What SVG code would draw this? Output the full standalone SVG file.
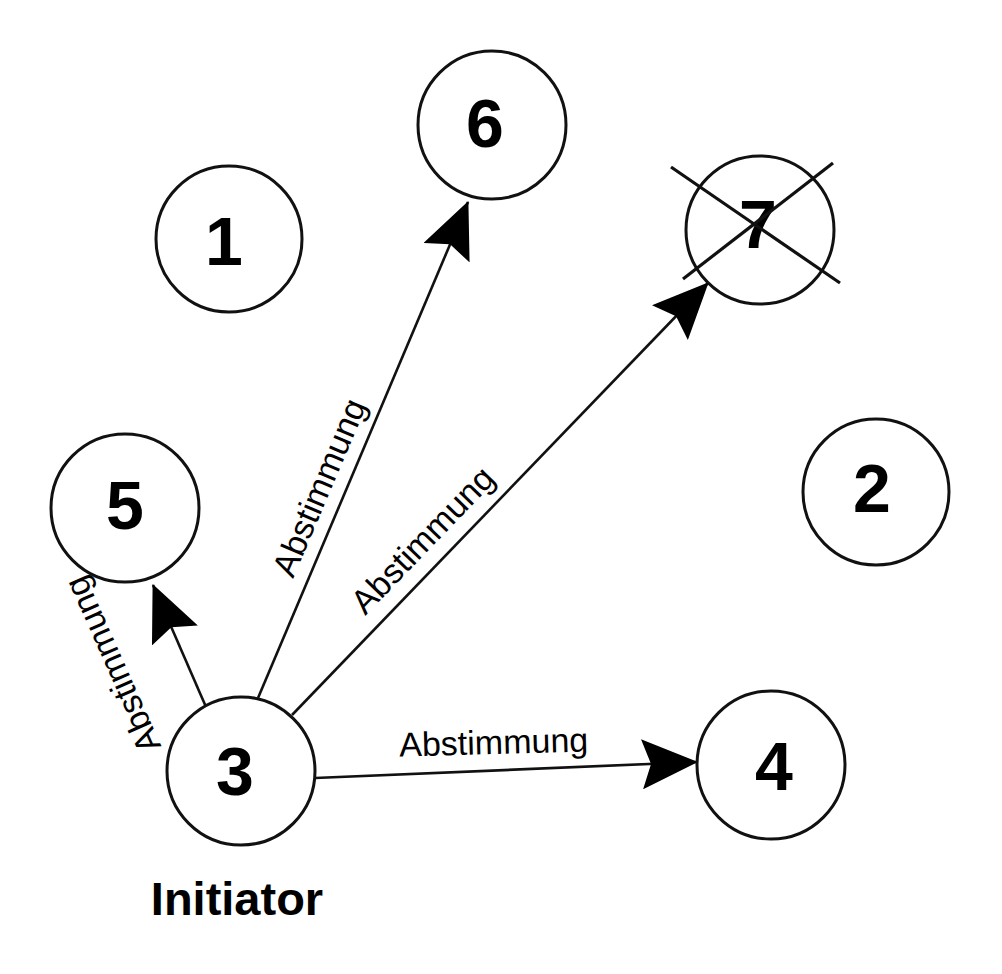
<svg xmlns="http://www.w3.org/2000/svg" width="1002" height="974" viewBox="0 0 1002 974">
<style>
.node{fill:#fff;stroke:#111;stroke-width:3}
.num{font-family:"Liberation Sans",Arial,sans-serif;font-weight:bold;font-size:68px;fill:#000;text-anchor:middle}
.edge{stroke:#111;stroke-width:2.6;fill:none;marker-end:url(#arr)}
.lbl{font-family:"Liberation Sans",Arial,sans-serif;font-size:34px;fill:#000;text-anchor:middle}
.cross{stroke:#111;stroke-width:3.2}
</style>
<defs>
<marker id="arr" markerUnits="userSpaceOnUse" markerWidth="56" markerHeight="50" viewBox="0 0 56 50" refX="55" refY="25" orient="auto">
<path d="M0,0 L56,25 L0,50 L9,25 Z" fill="#000"/>
</marker>
</defs>
<rect width="1002" height="974" fill="#fff"/>
<g id="connectors">
<line class="edge" x1="206" y1="707" x2="153" y2="585"/>
<line class="edge" x1="258" y1="698" x2="468" y2="202"/>
<line class="edge" x1="292" y1="715" x2="708" y2="283"/>
<line class="edge" x1="315" y1="778" x2="697" y2="762"/>
<text class="lbl" font-size="33" transform="translate(123,660) rotate(-114)">Abstimmung</text>
<text class="lbl" transform="translate(330,492) rotate(-67)">Abstimmung</text>
<text class="lbl" transform="translate(431,548) rotate(-46)">Abstimmung</text>
<text class="lbl" transform="translate(494,754) rotate(-1.5)">Abstimmung</text>
</g>
<g id="node1"><circle class="node" cx="229" cy="239" r="73"/><text class="num" x="224" y="265">1</text></g>
<g id="node2"><circle class="node" cx="876" cy="492" r="73"/><text class="num" x="872" y="512">2</text></g>
<g id="node3"><circle class="node" cx="241" cy="771" r="74"/><text class="num" x="235" y="795">3</text></g>
<g id="node4"><circle class="node" cx="771" cy="765" r="74"/><text class="num" x="774" y="790">4</text></g>
<g id="node5"><circle class="node" cx="125" cy="508" r="74"/><text class="num" x="125" y="529">5</text></g>
<g id="node6"><circle class="node" cx="492" cy="125" r="74"/><text class="num" x="485" y="147">6</text></g>
<g id="node7"><circle class="node" cx="760" cy="230" r="74"/><text class="num" x="758" y="248">7</text>
<line class="cross" x1="671" y1="167" x2="840" y2="283"/>
<line class="cross" x1="833" y1="163" x2="683" y2="279"/>
</g>
<text id="initiator" x="237" y="915" font-family="Liberation Sans, Arial, sans-serif" font-weight="bold" font-size="47" text-anchor="middle">Initiator</text>
</svg>
